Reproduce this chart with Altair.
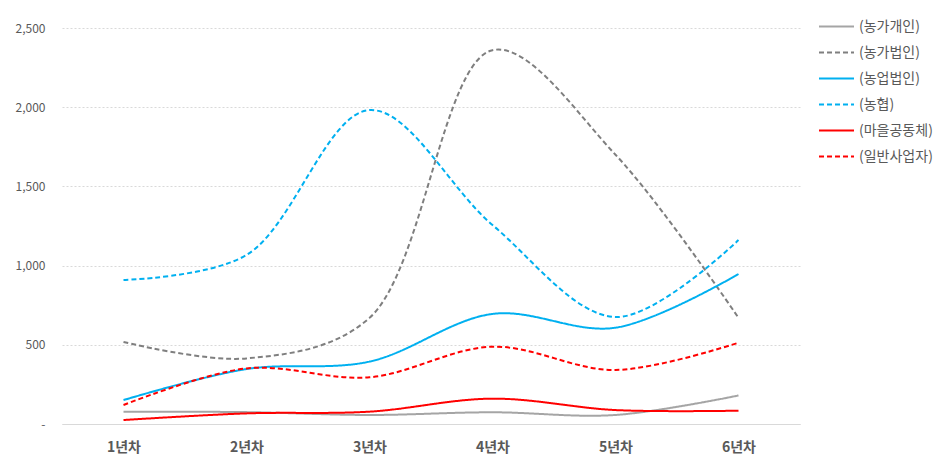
import altair as alt
import pandas as pd

years = ["1년차", "2년차", "3년차", "4년차", "5년차", "6년차"]
series_names = ["(농가개인)", "(농가법인)", "(농업법인)", "(농협)", "(마을공동체)", "(일반사업자)"]
farm_individual = [78, 75, 57, 74, 57, 180]
farm_corp = [518, 414, 670, 2360, 1700, 670]
agri_corp = [151, 347, 394, 695, 608, 947]
nonghyup = [909, 1067, 1982, 1256, 675, 1161]
village = [25, 67, 78, 160, 88, 84]
general = [120, 351, 295, 488, 341, 513]

colors = ["#A5A5A5", "#7F7F7F", "#00B0F0", "#00B0F0", "#FF0000", "#FF0000"]
dashes = [[1, 0], [5, 3], [1, 0], [5, 3], [1, 0], [5, 3]]

all_vals = [farm_individual, farm_corp, agri_corp, nonghyup, village, general]
rows = []
for name, vals in zip(series_names, all_vals):
    for y, v in zip(years, vals):
        rows.append({"year": y, "series": name, "value": v})
df = pd.DataFrame(rows)

font = "Noto Sans CJK KR"

chart = alt.Chart(df).mark_line(interpolate="catmull-rom", strokeWidth=2).encode(
    x=alt.X("year:N", sort=years, title=None,
            scale=alt.Scale(type="point", padding=0.5),
            axis=alt.Axis(labelAngle=0, labelFontWeight="bold", labelFontSize=14,
                          labelColor="#595959", labelFont=font, ticks=False,
                          domainColor="#D9D9D9", domainWidth=1, labelPadding=16, grid=False)),
    y=alt.Y("value:Q", title=None,
            scale=alt.Scale(domain=[0, 2500], nice=False),
            axis=alt.Axis(values=[0, 500, 1000, 1500, 2000, 2500],
                          labelExpr="datum.value == 0 ? '-' : format(datum.value, ',')",
                          labelColor="#595959", labelFontSize=12, labelFont=font,
                          ticks=False, domain=False, labelPadding=17,
                          gridColor="#D9D9D9", gridDash=[2, 2], gridWidth=1)),
    color=alt.Color("series:N", sort=series_names,
                    scale=alt.Scale(domain=series_names, range=colors),
                    legend=alt.Legend(title=None, orient="none", legendX=756, legendY=-20,
                                      symbolType="stroke", symbolSize=1225, symbolStrokeWidth=2,
                                      labelFont=font, labelFontSize=14, labelColor="#595959",
                                      rowPadding=-3, labelOffset=4)),
    strokeDash=alt.StrokeDash("series:N", sort=series_names,
                              scale=alt.Scale(domain=series_names, range=dashes),
                              legend=None),
).properties(
    width=738, height=396,
    padding={"left": 54, "top": 20, "right": 136, "bottom": 38},
    autosize=alt.AutoSizeParams(type="none"),
).configure(background="white").configure_view(stroke=None)

chart.save("out.html", embed_options={"renderer": "svg", "actions": False})
